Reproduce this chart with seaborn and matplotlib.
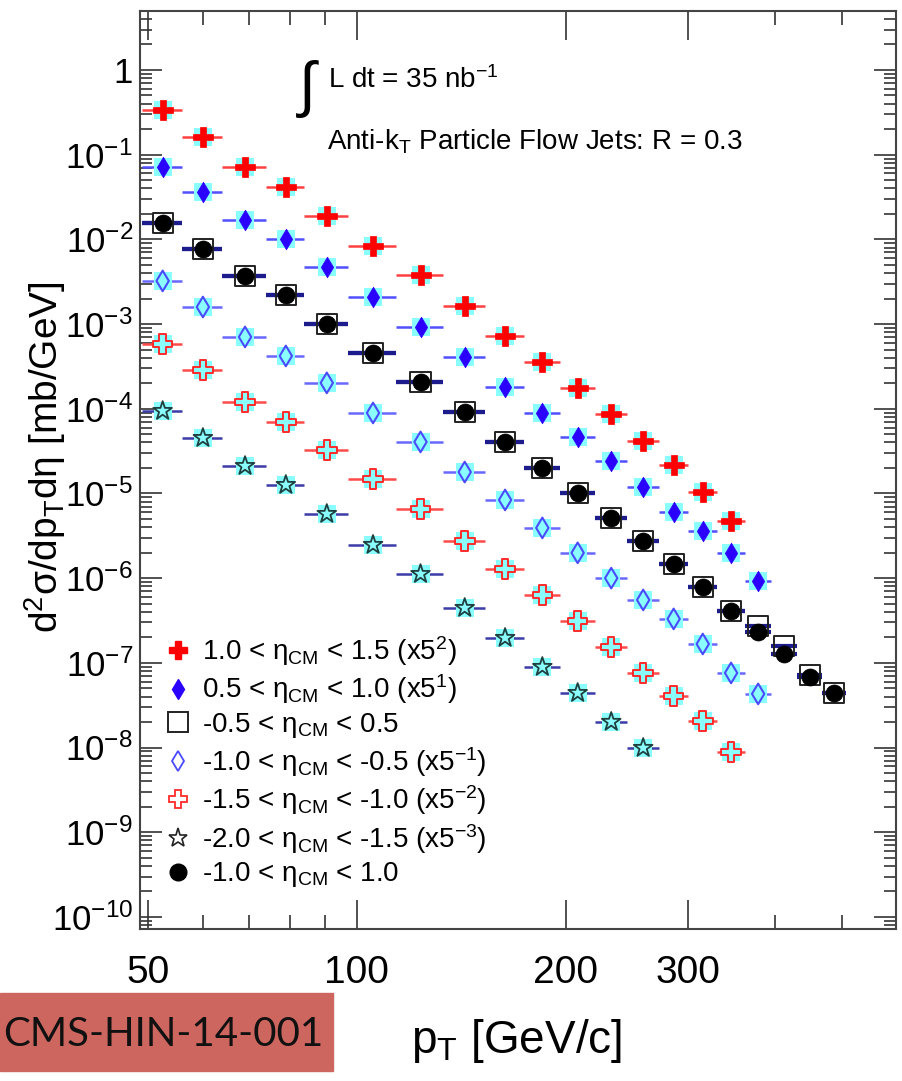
import numpy as np
import matplotlib
matplotlib.use("Agg")
import matplotlib.pyplot as plt
import seaborn as sns
from matplotlib.ticker import FixedLocator, FixedFormatter, NullFormatter
from matplotlib.lines import Line2D
from matplotlib.patches import Rectangle

# ---------------- data ----------------
pt_edges = [49, 56, 64, 74, 84, 97, 114, 133, 153, 174, 196, 220, 245, 272,
            300, 330, 362, 395, 430, 468, 507]
pt_centers = [52.5, 60, 69, 79, 90.5, 105.5, 123.5, 143, 163.5, 185, 208,
              232.5, 258.5, 286, 315, 346, 378.5, 412.5, 449, 487.5]

# 1.0 < eta < 1.5  (x5^2)
xs_p10_p15 = [0.337, 0.162, 0.0716, 0.0416, 0.0189, 0.00836, 0.00380, 0.00164,
              7.24e-4, 3.57e-4, 1.76e-4, 8.69e-5, 4.17e-5, 2.17e-5, 1.04e-5, 4.73e-6]
# 0.5 < eta < 1.0  (x5^1)
xs_p05_p10 = [0.0716, 0.0363, 0.0170, 0.0101, 0.00472, 0.00209, 9.24e-4, 4.09e-4,
              1.81e-4, 8.92e-5, 4.64e-5, 2.42e-5, 1.19e-5, 6.05e-6, 3.61e-6, 1.99e-6,
              9.27e-7]
# -0.5 < eta < 0.5
xs_m05_p05 = [0.0157, 0.00775, 0.00372, 0.00222, 1.01e-3, 4.58e-4, 2.08e-4, 9.2e-5,
              4.08e-5, 2.01e-5, 1.02e-5, 5.16e-6, 2.77e-6, 1.48e-6, 7.9e-7, 4.12e-7,
              2.73e-7, 1.58e-7, 7.2e-8, 4.4e-8]
# -1.0 < eta < -0.5 (x5^-1)
xs_m10_m05 = [0.00323, 0.00159, 7.04e-4, 4.20e-4, 2.02e-4, 8.92e-5, 4.06e-5, 1.79e-5,
              8.38e-6, 3.92e-6, 1.99e-6, 1.00e-6, 5.53e-7, 3.30e-7, 1.67e-7, 7.60e-8,
              4.3e-8]
# -1.5 < eta < -1.0 (x5^-2)
xs_m15_m10 = [5.82e-4, 2.87e-4, 1.20e-4, 6.98e-5, 3.26e-5, 1.48e-5, 6.56e-6, 2.75e-6,
              1.28e-6, 6.34e-7, 3.12e-7, 1.54e-7, 7.60e-8, 4.05e-8, 2.06e-8, 8.87e-9]
# -2.0 < eta < -1.5 (x5^-3)
xs_m20_m15 = [9.42e-5, 4.52e-5, 2.11e-5, 1.26e-5, 5.73e-6, 2.47e-6, 1.12e-6, 4.45e-7,
              1.97e-7, 8.95e-8, 4.41e-8, 2.01e-8, 9.9e-9]
# -1.0 < eta < 1.0
xs_m10_p10 = [0.0156, 0.00771, 0.00370, 0.00221, 1.00e-3, 4.56e-4, 2.07e-4, 9.16e-5,
              4.06e-5, 2.00e-5, 1.01e-5, 5.14e-6, 2.75e-6, 1.47e-6, 7.87e-7, 4.10e-7,
              2.32e-7, 1.27e-7, 6.82e-8, 4.41e-8]

legend_labels = [
    r"1.0 < η$_{\mathrm{CM}}$ < 1.5 (x5$^{2}$)",
    r"0.5 < η$_{\mathrm{CM}}$ < 1.0 (x5$^{1}$)",
    r"-0.5 < η$_{\mathrm{CM}}$ < 0.5",
    r"-1.0 < η$_{\mathrm{CM}}$ < -0.5 (x5$^{-1}$)",
    r"-1.5 < η$_{\mathrm{CM}}$ < -1.0 (x5$^{-2}$)",
    r"-2.0 < η$_{\mathrm{CM}}$ < -1.5 (x5$^{-3}$)",
    r"-1.0 < η$_{\mathrm{CM}}$ < 1.0",
]
x_ticks = [50, 100, 200, 300]
x_minor = [60, 70, 80, 90, 400, 500]
y_decades = list(range(-10, 1))

# ---------------- style ----------------
sns.set_style("ticks")
plt.rcParams["font.family"] = ["Liberation Sans", "DejaVu Sans"]
plt.rcParams["mathtext.fontset"] = "custom"
plt.rcParams["mathtext.rm"] = "Liberation Sans"
plt.rcParams["mathtext.it"] = "Liberation Sans:italic"
plt.rcParams["mathtext.bf"] = "Liberation Sans:bold"
plt.rcParams["mathtext.sf"] = "Liberation Sans"
plt.rcParams["mathtext.default"] = "regular"
plt.rcParams["text.color"] = "black"
plt.rcParams["axes.labelcolor"] = "black"
plt.rcParams["xtick.labelcolor"] = "black"
plt.rcParams["ytick.labelcolor"] = "black"

W, H = 903, 1081
fig = plt.figure(figsize=(W / 100, H / 100), dpi=100)
fig.patch.set_facecolor("white")
ax = fig.add_axes([140 / W, 1 - 929 / H, (896 - 140) / W, (929 - 11) / H])
ax.set_facecolor("white")
ax.set_xscale("log")
ax.set_yscale("log")

CYAN = "#8AFFFF"


def draw(vals, marker, s, face, edge, lw, ecolor, elw, cyan=True, cyan_s=170):
    n = len(vals)
    x = np.array(pt_centers[:n])
    lo = x - np.array(pt_edges[:n])
    hi = np.array(pt_edges[1:n + 1]) - x
    ax.errorbar(x, vals, xerr=[lo, hi], fmt="none", ecolor=ecolor,
                elinewidth=elw, capsize=0, zorder=2)
    if cyan:
        ax.scatter(x, vals, marker="s", s=cyan_s, color=CYAN, linewidths=0,
                   zorder=3)
    sns.scatterplot(x=x, y=vals, marker=marker, s=s, ax=ax, legend=False,
                    zorder=4)
    coll = ax.collections[-1]
    coll.set_facecolor(face)
    coll.set_edgecolor(edge)
    coll.set_linewidth(lw)


draw(xs_m20_m15, "*", 200, "none", "#1f3f3f", 1.3, "#3c3ca8", 1.8)
draw(xs_m15_m10, "P", 200, "none", "#ff2a2a", 1.4, "#ff4a4a", 1.8)
draw(xs_m10_m05, "d", 110, "none", "#4a4aff", 1.5, "#6868ff", 1.8)
draw(xs_p05_p10, "d", 110, "#2a00ff", "#2a00ff", 0.5, "#5050ff", 1.8)
draw(xs_p10_p15, "P", 200, "#ff0000", "#ff0000", 0.5, "#ff4040", 1.8)
draw(xs_m05_p05, "s", 210, "none", "#222222", 1.4, "#1c1c8c", 3.0, cyan=False)
draw(xs_m10_p10, "o", 150, "#000000", "#000000", 0.5, "#1c1c8c", 3.0, cyan=False)

# ---------------- axes ----------------
ax.set_xlim(48.7, 598)
ax.set_ylim(7.2e-11, 4.97)

ax.xaxis.set_major_locator(FixedLocator(x_ticks))
ax.xaxis.set_major_formatter(FixedFormatter([str(v) for v in x_ticks]))
ax.xaxis.set_minor_locator(FixedLocator(x_minor))
ax.xaxis.set_minor_formatter(NullFormatter())

ymaj = [10.0 ** k for k in y_decades]
ylab = [r"$10^{%d}$" % k if k != 0 else "1" for k in y_decades]
ax.yaxis.set_major_locator(FixedLocator(ymaj))
ax.yaxis.set_major_formatter(FixedFormatter(ylab))
ymin = [m * 10.0 ** k for k in range(-11, 1) for m in range(2, 10)]
ax.yaxis.set_minor_locator(FixedLocator(ymin))
ax.yaxis.set_minor_formatter(NullFormatter())

ax.tick_params(axis="both", which="both", direction="in", top=True, right=True,
               color="#333333", width=1.2)
ax.tick_params(axis="x", which="major", length=21, labelsize=28, pad=19)
ax.tick_params(axis="x", which="minor", length=10)
ax.tick_params(axis="y", which="major", length=16, labelsize=25, pad=5)
ax.tick_params(axis="y", which="minor", length=8.5)
for sp in ax.spines.values():
    sp.set_linewidth(1.5)
    sp.set_color("#444444")
    sp.set_visible(True)

# ---------------- legend ----------------
handles = [
    Line2D([], [], ls="none", marker="P", ms=13, mfc="#ff0000", mec="#ff0000"),
    Line2D([], [], ls="none", marker="d", ms=10, mfc="#2a00ff", mec="#2a00ff"),
    Line2D([], [], ls="none", marker="s", ms=14, mfc="none", mec="#222222", mew=1.4),
    Line2D([], [], ls="none", marker="d", ms=10, mfc="none", mec="#4a4aff", mew=1.3),
    Line2D([], [], ls="none", marker="P", ms=13, mfc="none", mec="#ff2a2a", mew=1.3),
    Line2D([], [], ls="none", marker="*", ms=14, mfc="none", mec="#222222", mew=1.2),
    Line2D([], [], ls="none", marker="o", ms=12, mfc="#000000", mec="#000000"),
]
leg = ax.legend(handles, legend_labels, loc="upper left",
                bbox_to_anchor=((164 - 140) / 756, 1 - (634 - 11) / 918),
                frameon=False, fontsize=20, handlelength=1.0,
                handletextpad=0.36, labelspacing=0.17, borderpad=0,
                borderaxespad=0)
for t in leg.get_texts():
    t.set_color("black")

# ---------------- texts ----------------
def fx(px):
    return px / W


def fy(py):
    return 1 - py / H


fig.text(fx(299), fy(89), "∫", fontsize=44, ha="left", va="center")
fig.text(fx(328), fy(88), r"L dt = 35 nb$^{-1}$", fontsize=20, ha="left",
         va="baseline")
fig.text(fx(327), fy(150), r"Anti-k$_{\mathrm{T}}$ Particle Flow Jets: R = 0.3",
         fontsize=20, ha="left", va="baseline")

fig.text(fx(45), fy(457), r"d$^{2}$σ/dp$_{\mathrm{T}}$dη [mb/GeV]", fontsize=28,
         rotation=90, ha="center", va="center")
fig.text(fx(517), fy(1041), r"p$_{\mathrm{T}}$ [GeV/c]", fontsize=33,
         ha="center", va="center")

fig.patches.append(Rectangle((0, fy(1071)), 333 / W, (1071 - 993) / H,
                             transform=fig.transFigure, color="#CD665F",
                             zorder=0))
fig.text(fx(3), fy(1034), "CMS-HIN-14-001", fontsize=29, ha="left",
         va="center", family=["Lato", "Liberation Sans"], color="#111111")

fig.savefig("out.png", dpi=100)
